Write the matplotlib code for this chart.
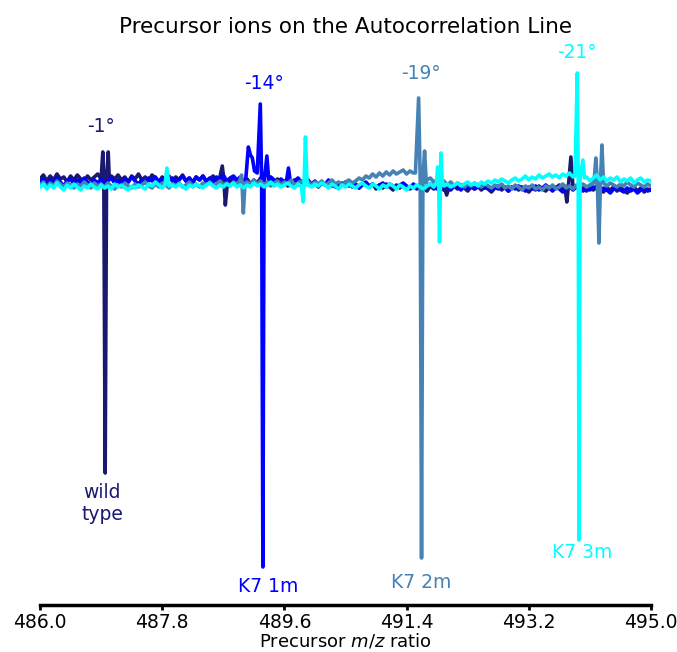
import numpy as np
import matplotlib
matplotlib.use("Agg")
import matplotlib.pyplot as plt

# ---------------- data ----------------
mz_min, mz_max = 486.0, 495.0
tick_vals = [486.0, 487.8, 489.6, 491.4, 493.2, 495.0]

names = ["wild\ntype", "K7 1m", "K7 2m", "K7 3m"]
angles = ["-1°", "-14°", "-19°", "-21°"]
colors = ["midnightblue", "blue", "steelblue", "cyan"]

# baseline noise, sampled every 0.05 m/z from 486.0 to 495.0 (rows of 0.5 m/z)
base_wt = [
    0.04, 0.08, 0.02, 0.07, 0.03, 0.09, 0.04, 0.06, 0.01, 0.07,
    0.03, 0.08, 0.04, 0.02, 0.07, 0.03, 0.06, 0.09, 0.03, 0.05,
    0.02, 0.07, 0.04, 0.08, 0.03, 0.06, 0.01, 0.07, 0.04, 0.09,
    0.03, 0.06, 0.02, 0.08, 0.05, 0.01, 0.06, 0.03, 0.07, 0.02,
    0.06, 0.03, 0.08, 0.02, 0.05, 0.00, 0.06, 0.03, 0.07, 0.01,
    0.04, 0.07, 0.02, 0.05, 0.01, 0.06, 0.02, 0.04, -0.01, 0.05,
    0.01, 0.04, -0.01, 0.03, 0.00, 0.05, 0.01, -0.02, 0.03, 0.00,
    0.04, -0.01, 0.02, -0.03, 0.01, 0.03, -0.02, 0.02, -0.01, 0.03,
    -0.02, 0.01, -0.04, 0.00, -0.02, 0.02, -0.03, -0.01, -0.05, 0.00,
    -0.03, 0.01, -0.04, -0.01, -0.05, -0.02, 0.00, -0.04, -0.01, -0.06,
    -0.02, -0.05, -0.01, -0.04, -0.07, -0.02, -0.05, -0.01, -0.04, -0.06,
    -0.03, -0.06, -0.02, -0.05, -0.08, -0.03, -0.06, -0.02, -0.05, -0.07,
    -0.04, -0.07, -0.03, -0.06, -0.02, -0.05, -0.08, -0.04, -0.06, -0.03,
    -0.07, -0.04, -0.06, -0.09, -0.05, -0.03, -0.07, -0.04, -0.08, -0.05,
    -0.03, -0.07, -0.04, -0.06, -0.09, -0.05, -0.07, -0.03, -0.06, -0.08,
    -0.04, -0.07, -0.05, -0.02, -0.06, -0.04, -0.08, -0.05, -0.03, -0.06,
    -0.04, -0.08, -0.05, -0.07, -0.03, -0.06, -0.09, -0.05, -0.07, -0.04,
    -0.08, -0.05, -0.07, -0.10, -0.06, -0.04, -0.08, -0.05, -0.09, -0.06,
    -0.07]
base_1m = [
    0.00, 0.04, -0.02, 0.03, -0.01, 0.05, 0.01, -0.03, 0.02, 0.04,
    -0.01, 0.03, 0.00, 0.05, 0.01, -0.02, 0.03, 0.00, 0.04, -0.01,
    0.02, 0.05, 0.00, 0.03, -0.02, 0.04, 0.01, 0.06, 0.02, -0.01,
    0.03, 0.00, 0.05, 0.02, 0.06, 0.01, 0.04, -0.01, 0.03, 0.05,
    0.01, 0.04, 0.07, 0.02, 0.05, 0.01, 0.06, 0.03, 0.07, 0.02,
    0.05, 0.01, 0.06, 0.03, 0.08, 0.02, 0.05, 0.07, 0.03, 0.06,
    0.02, 0.05, 0.01, 0.04, 0.07, 0.03, 0.05, 0.02, 0.06, 0.03,
    0.00, 0.04, 0.01, 0.03, -0.01, 0.02, 0.05, 0.01, -0.02, 0.02,
    -0.01, 0.02, -0.03, 0.01, -0.02, 0.03, -0.01, -0.04, 0.00, -0.02,
    0.01, -0.03, 0.00, -0.02, -0.05, -0.01, 0.01, -0.03, -0.01, -0.04,
    -0.02, 0.00, -0.04, -0.01, -0.03, -0.05, -0.02, 0.00, -0.03, -0.05,
    -0.01, -0.04, -0.02, -0.05, -0.03, -0.01, -0.04, -0.06, -0.02, -0.04,
    -0.03, -0.06, -0.02, -0.04, -0.07, -0.03, -0.05, -0.02, -0.06, -0.04,
    -0.02, -0.05, -0.03, -0.07, -0.04, -0.06, -0.02, -0.05, -0.08, -0.04,
    -0.06, -0.03, -0.05, -0.08, -0.04, -0.06, -0.03, -0.07, -0.05, -0.02,
    -0.05, -0.08, -0.04, -0.06, -0.09, -0.05, -0.03, -0.07, -0.04, -0.06,
    -0.08, -0.05, -0.07, -0.04, -0.06, -0.09, -0.05, -0.07, -0.10, -0.06,
    -0.04, -0.07, -0.09, -0.05, -0.08, -0.06, -0.10, -0.07, -0.05, -0.08,
    -0.07]
base_2m = [
    -0.02, 0.01, -0.04, 0.00, -0.03, 0.02, -0.01, -0.04, 0.00, -0.02,
    -0.05, -0.01, -0.03, 0.01, -0.02, -0.05, 0.00, -0.03, -0.01, -0.04,
    0.00, -0.03, -0.06, -0.02, -0.04, 0.00, -0.03, -0.05, -0.01, -0.04,
    -0.02, 0.01, -0.03, -0.05, -0.01, -0.04, 0.00, -0.02, -0.05, -0.01,
    -0.03, 0.00, -0.04, -0.02, 0.01, -0.03, -0.01, -0.04, 0.00, -0.02,
    0.01, -0.03, -0.01, 0.02, -0.02, 0.00, -0.03, 0.01, -0.01, 0.02,
    -0.02, 0.01, -0.01, 0.03, -0.01, 0.02, -0.02, 0.01, -0.03, 0.00,
    0.02, -0.02, 0.01, -0.01, 0.03, -0.02, 0.00, 0.02, -0.01, 0.01,
    -0.02, 0.01, -0.01, 0.02, -0.02, 0.00, 0.03, -0.01, 0.01, -0.02,
    0.01, 0.03, 0.00, 0.02, 0.05, 0.03, 0.07, 0.05, 0.09, 0.06,
    0.10, 0.07, 0.11, 0.08, 0.12, 0.09, 0.11, 0.13, 0.09, 0.12,
    0.10, 0.12, 0.08, 0.06, 0.03, 0.05, 0.01, 0.03, -0.01, 0.02,
    -0.02, 0.01, -0.03, 0.00, -0.02, -0.04, -0.01, -0.03, 0.00, -0.02,
    -0.04, -0.01, -0.03, -0.05, -0.02, -0.04, -0.01, -0.05, -0.03, -0.06,
    -0.02, -0.04, -0.07, -0.03, -0.05, -0.02, -0.06, -0.04, -0.07, -0.03,
    -0.05, -0.02, -0.06, -0.04, -0.01, -0.05, -0.03, -0.06, -0.02, -0.04,
    -0.01, -0.04, -0.02, 0.00, -0.03, -0.05, -0.01, -0.03, 0.00, -0.02,
    -0.04, -0.01, -0.03, 0.01, -0.02, -0.04, 0.00, -0.02, -0.04, -0.01,
    -0.03]
base_3m = [
    -0.04, -0.01, -0.06, -0.02, -0.05, 0.00, -0.04, -0.07, -0.02, -0.05,
    -0.01, -0.04, -0.07, -0.03, -0.05, -0.01, -0.04, -0.06, -0.02, -0.05,
    -0.03, -0.06, -0.01, -0.04, -0.02, -0.05, -0.07, -0.03, -0.05, -0.02,
    -0.04, -0.06, -0.01, -0.03, 0.01, -0.02, -0.05, -0.03, -0.06, -0.02,
    -0.04, -0.01, -0.03, -0.06, -0.02, -0.04, -0.01, -0.03, -0.05, -0.02,
    0.00, -0.03, -0.05, -0.02, -0.04, -0.01, -0.03, 0.00, -0.04, -0.02,
    -0.05, -0.02, -0.04, 0.00, -0.03, -0.01, -0.04, -0.02, 0.01, -0.03,
    -0.01, -0.04, -0.02, 0.00, -0.03, -0.05, -0.01, -0.03, 0.00, -0.02,
    -0.04, -0.01, -0.03, 0.00, -0.02, -0.05, -0.01, -0.03, -0.06, -0.02,
    -0.04, -0.01, -0.03, -0.05, -0.02, 0.00, -0.03, -0.05, -0.01, -0.03,
    -0.06, -0.02, -0.04, -0.01, -0.03, -0.06, -0.02, -0.04, -0.07, -0.03,
    -0.05, -0.02, -0.04, -0.06, -0.03, -0.01, -0.04, -0.02, -0.05, -0.03,
    -0.01, -0.04, -0.02, 0.00, -0.03, -0.01, 0.01, -0.02, 0.00, -0.03,
    0.01, -0.01, 0.02, 0.00, 0.03, 0.01, 0.04, 0.02, 0.00, 0.03,
    0.05, 0.02, 0.04, 0.07, 0.03, 0.06, 0.04, 0.08, 0.05, 0.07,
    0.09, 0.06, 0.08, 0.05, 0.09, 0.07, 0.10, 0.06, 0.08, 0.05,
    0.03, 0.06, 0.02, 0.05, 0.08, 0.03, 0.06, 0.02, 0.05, 0.03,
    0.06, 0.01, 0.04, 0.02, 0.05, 0.00, 0.03, 0.05, 0.01, 0.03,
    0.02]

# peak features: lists of (m/z, value) clusters
peaks_wt = [
    [(486.90, 0.04), (486.925, 0.31), (486.94, 0.03), (486.96, -2.90),
     (486.98, 0.03), (487.005, 0.31), (487.02, 0.04)],
    [(488.64, 0.03), (488.685, 0.17), (488.71, 0.02), (488.73, -0.22), (488.76, 0.00)],
    [(491.96, -0.05), (491.99, -0.12), (492.02, -0.05)],
    [(493.73, -0.03), (493.76, -0.19), (493.79, 0.02), (493.82, 0.26), (493.85, -0.03)],
]
peaks_1m = [
    [(489.03, 0.03), (489.069, 0.36), (489.10, 0.28), (489.128, 0.25), (489.16, 0.12),
     (489.20, 0.10), (489.245, 0.79), (489.265, 0.00), (489.283, -3.84),
     (489.30, 0.00), (489.342, 0.27), (489.37, 0.02)],
    [(489.63, 0.02), (489.66, 0.15), (489.69, 0.00)],
]
peaks_2m = [
    [(488.94, 0.02), (488.97, 0.08), (488.995, -0.30), (489.02, 0.00)],
    [(491.53, 0.10), (491.577, 0.85), (491.60, 0.05), (491.62, -3.75),
     (491.64, 0.05), (491.665, 0.32), (491.69, 0.00)],
    [(494.16, 0.00), (494.188, 0.25), (494.21, 0.00), (494.233, -0.60),
     (494.255, 0.00), (494.277, 0.38), (494.30, 0.00)],
]
peaks_3m = [
    [(487.84, -0.02), (487.87, 0.15), (487.90, -0.03)],
    [(489.85, -0.03), (489.876, -0.19), (489.89, 0.00), (489.91, 0.46), (489.935, -0.02)],
    [(491.84, 0.00), (491.857, 0.16), (491.872, 0.00), (491.885, -0.59),
     (491.905, 0.30), (491.925, 0.02)],
    [(493.88, 0.07), (493.915, 1.10), (493.928, 0.00), (493.94, -3.57),
     (493.955, 0.05), (493.997, 0.23), (494.02, 0.05)],
]

# label positions (m/z, value)
angle_pos = [(486.90, 0.57), (489.30, 0.99), (491.61, 1.09), (493.91, 1.30)]
name_pos = [(486.92, -3.20), (489.36, -4.04), (491.61, -4.00), (493.98, -3.69)]

bases = [base_wt, base_1m, base_2m, base_3m]
peaks = [peaks_wt, peaks_1m, peaks_2m, peaks_3m]


def build(base, clusters):
    bx = np.linspace(mz_min, mz_max, len(base))
    by = np.array(base, dtype=float)
    keep = np.ones(len(bx), dtype=bool)
    px, py = [], []
    for cl in clusters:
        cx = [p[0] for p in cl]
        keep &= ~((bx >= min(cx)) & (bx <= max(cx)))
        px += cx
        py += [p[1] for p in cl]
    x = np.concatenate([bx[keep], px])
    y = np.concatenate([by[keep], py])
    o = np.argsort(x)
    return x[o], y[o]


# ---------------- plot ----------------
fig = plt.figure(figsize=(6.77, 6.52), dpi=100)
ax = fig.add_axes([40 / 677, 1 - 605 / 652, 611 / 677, (605 - 40) / 652])

for base, cl, c in zip(bases, peaks, colors):
    x, y = build(base, cl)
    ax.plot(x, y, color=c, lw=2.6, solid_joinstyle="round")

for (ax_, ay), t, c in zip(angle_pos, angles, colors):
    ax.text(ax_, ay, t, color=c, fontsize=13.5, ha="center", va="center")
for (nx, ny), t, c in zip(name_pos, names, colors):
    ax.text(nx, ny, t, color=c, fontsize=13.5, ha="center", va="center",
            linespacing=1.2)

ax.set_xlim(mz_min, mz_max)
ax.set_ylim(-4.22, 1.43)
ax.set_xticks(tick_vals)
ax.set_xticklabels([f"{v:.1f}" for v in tick_vals], fontsize=13.5)
ax.set_yticks([])
for s in ["left", "right", "top"]:
    ax.spines[s].set_visible(False)
ax.spines["bottom"].set_linewidth(2.5)
ax.tick_params(axis="x", width=2, length=3.5, pad=2.5)
ax.set_xlabel("Precursor $m/z$ ratio", fontsize=13, labelpad=-0.8)
ax.set_title("Precursor ions on the Autocorrelation Line", fontsize=15.5, pad=5)

fig.savefig("out.png", dpi=100)
